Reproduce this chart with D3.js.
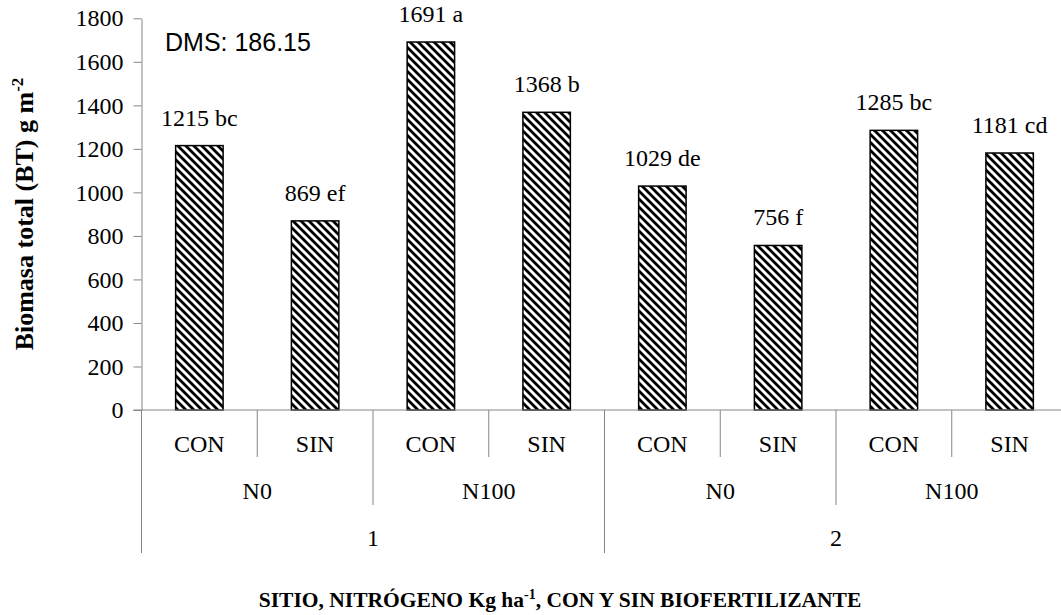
<!DOCTYPE html>
<html>
<head>
<meta charset="utf-8">
<script src="https://cdn.jsdelivr.net/npm/d3@7"></script>
<style>
  body { margin: 0; background: #fff; }
  text { font-family: "Liberation Serif", "Times New Roman", serif; fill: #000; }
</style>
</head>
<body>
<div id="chart"></div>
<script>
// data
const biofert = ["CON", "SIN", "CON", "SIN", "CON", "SIN", "CON", "SIN"];
const nitrogeno = ["N0", "N100", "N0", "N100"];
const sitios = ["1", "2"];
const biomasa = [1215, 869, 1691, 1368, 1029, 756, 1285, 1181];
const letras = ["bc", "ef", "a", "b", "de", "f", "bc", "cd"];
const yTicks = [0, 200, 400, 600, 800, 1000, 1200, 1400, 1600, 1800];

const W = 1061, H = 615;
const axisColor = "#868686";
const fontSize = 24;

const svg = d3.select("#chart")
    .append("svg")
    .attr("width", W)
    .attr("height", H);

// hatch pattern (wide downward diagonal)
const defs = svg.append("defs");
const pat = defs.append("pattern")
    .attr("id", "hatch")
    .attr("patternUnits", "userSpaceOnUse")
    .attr("width", 8)
    .attr("height", 8);
pat.append("rect").attr("width", 8).attr("height", 8).attr("fill", "#fff");
pat.append("path")
    .attr("d", "M-4,4 L4,12 M0,0 L8,8 M4,-4 L12,4")
    .attr("stroke", "#000")
    .attr("stroke-width", 2.8);

// scales
const x0 = 141.5, band = 115.75;
const x = d3.scaleBand()
    .domain(d3.range(biomasa.length))
    .range([x0, x0 + band * biomasa.length])
    .padding(0);

const y = d3.scaleLinear()
    .domain([0, 1800])
    .range([410, 18.3]);

// y axis
const yAxis = svg.append("g")
    .attr("transform", `translate(${x0},0)`)
    .call(d3.axisLeft(y)
        .tickValues(yTicks)
        .tickFormat(d3.format("d"))
        .tickSize(8)
        .tickPadding(10)
        .tickSizeOuter(0));
yAxis.select(".domain").attr("stroke", axisColor);
yAxis.selectAll(".tick line").attr("stroke", axisColor);
yAxis.selectAll(".tick text")
    .attr("font-size", fontSize);

// bars
const barW = band * 0.41;
svg.selectAll("rect.bar")
    .data(biomasa)
    .enter()
    .append("rect")
    .attr("class", "bar")
    .attr("x", (d, i) => x(i) + (band - barW) / 2)
    .attr("y", d => y(d))
    .attr("width", barW)
    .attr("height", d => y(0) - y(d))
    .attr("fill", "url(#hatch)")
    .attr("stroke", "#000")
    .attr("stroke-width", 1.5);

// value labels
svg.selectAll("text.val")
    .data(biomasa)
    .enter()
    .append("text")
    .attr("class", "val")
    .attr("x", (d, i) => x(i) + band / 2)
    .attr("y", d => y(d) - 20)
    .attr("text-anchor", "middle")
    .attr("font-size", fontSize)
    .text((d, i) => `${d} ${letras[i]}`);

// category axis (three levels)
const cat = svg.append("g").attr("class", "cat-axis");
cat.append("line")
    .attr("x1", x0 - 8).attr("x2", W)
    .attr("y1", y(0)).attr("y2", y(0))
    .attr("stroke", axisColor);

const rowBottom = [457, 505, 553];
const rowBase = [452, 499, 546];

// separators
d3.range(biomasa.length + 1).forEach(i => {
    let level = 0;
    if (i % 4 === 0) level = 2;
    else if (i % 2 === 0) level = 1;
    const xs = x0 + i * band;
    cat.append("line")
        .attr("x1", xs).attr("x2", xs)
        .attr("y1", y(0)).attr("y2", rowBottom[level])
        .attr("stroke", axisColor);
});

cat.selectAll("text.b")
    .data(biofert)
    .enter()
    .append("text")
    .attr("x", (d, i) => x(i) + band / 2)
    .attr("y", rowBase[0])
    .attr("text-anchor", "middle")
    .attr("font-size", fontSize)
    .text(d => d);

cat.selectAll("text.n")
    .data(nitrogeno)
    .enter()
    .append("text")
    .attr("x", (d, i) => x0 + band * (2 * i + 1))
    .attr("y", rowBase[1])
    .attr("text-anchor", "middle")
    .attr("font-size", fontSize)
    .text(d => d);

cat.selectAll("text.s")
    .data(sitios)
    .enter()
    .append("text")
    .attr("x", (d, i) => x0 + band * (4 * i + 2))
    .attr("y", rowBase[2])
    .attr("text-anchor", "middle")
    .attr("font-size", fontSize)
    .text(d => d);

// DMS note (sans-serif in the original)
svg.append("text")
    .attr("x", 165)
    .attr("y", 51)
    .style("font-family", "'Liberation Sans', Arial, sans-serif")
    .attr("font-size", 25)
    .text("DMS: 186.15");

// y axis title
const yTitle = svg.append("text")
    .attr("transform", `translate(33,214) rotate(-90)`)
    .attr("text-anchor", "middle")
    .attr("font-weight", "bold")
    .attr("font-size", 26);
yTitle.append("tspan").text("Biomasa total (BT) g m");
yTitle.append("tspan").attr("dy", -10).attr("font-size", 17).text("-2");

// x axis title
const xTitle = svg.append("text")
    .attr("x", 560)
    .attr("y", 607)
    .attr("text-anchor", "middle")
    .attr("font-weight", "bold")
    .attr("font-size", 21.5);
xTitle.append("tspan").text("SITIO, NITRÓGENO Kg ha");
xTitle.append("tspan").attr("dy", -8).attr("font-size", 14).text("-1");
xTitle.append("tspan").attr("dy", 8).text(", CON Y SIN BIOFERTILIZANTE");
</script>
</body>
</html>
